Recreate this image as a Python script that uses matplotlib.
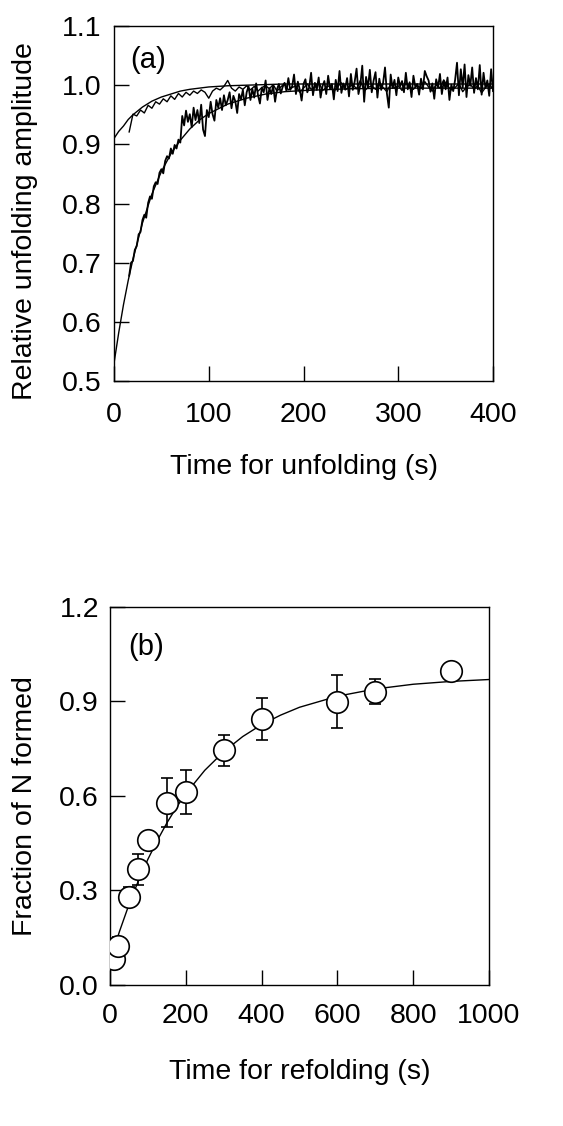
import numpy as np
import matplotlib
matplotlib.use("Agg")
import matplotlib.pyplot as plt

plt.rcParams['font.family'] = ['Liberation Sans', 'DejaVu Sans']

# ---------------- Panel (a) data ----------------
slow_t = list(range(16, 401, 2))
slow_y = [
    .678, .700, .703, .722, .728, .748, .752, .772, .781, .776,
    .801, .812, .808, .829, .836, .833, .852, .858, .851, .872,
    .880, .876, .893, .884, .899, .893, .908, .903, .948, .932,
    .957, .938, .951, .929, .962, .941, .958, .936, .967, .925,
    .914, .958, .946, .972, .951, .940, .975, .962, .978, .958,
    .983, .966, .975, .988, .961, .982, .973, .953, .985, .976,
    .992, .966, .988, .998, .975, .994, .979, 1.003, .983, .969,
    .996, .988, 1.008, .975, .995, .985, .999, .972, .993, 1.002,
    .986, .997, 1.004, .990, 1.012, .992, .998, 1.018, .985, 1.006,
    .993, .974, 1.002,
    1.010, .988, .996, 1.021, .983, 1.004, .992, 1.013, .979, .998,
    1.007, .985, 1.016, .994, 1.002, .976, 1.009, .990, 1.024, .987,
    1.003, .995, 1.012, .981, 1.019, .992, 1.006, 1.028, .985, 1.001,
    1.033, .972, 1.014, .996, 1.026, .988, 1.008, 1.022, .979, 1.011,
    .992, 1.004, 1.030, .986, .962, 1.018, .995, 1.009, .983, 1.013,
    .998, 1.007, .988, 1.021, .993, 1.005, .980, 1.016, .997, 1.002,
    .984, 1.011, .993, 1.024, 1.015, 1.008, .989, 1.003, .977, 1.010,
    .996, 1.019, .985, 1.007, .993, 1.013, .975, 1.001, .990, 1.009,
    1.038, .983, 1.027, .996, 1.035, .980, 1.017, .999, 1.030, .987,
    1.012, .993, 1.034, .984, 1.021, .995, 1.008, .982, 1.027, .990,
]

fast_t = list(range(16, 401, 4))
fast_y = [
    .921, .951, .948, .958, .953, .966, .961, .972, .968, .977,
    .972, .982, .976, .986, .980, .988, .983, .990, .986, .992,
    .988, .978, .990, .995, .992, .998, 1.008, .995, .990, .997,
    .993, .999, .992, .998, .990, .996, .999,
    .994, 1.001, .990, .997, 1.003, .992, .996, .999, .988, .995,
    1.002, .993, .997, 1.006, .991, .996, 1.000, .989, .998, 1.004,
    .992, .997, 1.001, .994, 1.008, .990, .996, .999, .993, 1.005,
    .996, .989, 1.002, .995, .999, .991, 1.004, .996, .993, 1.000,
    .994, 1.006, .997, .990, 1.001, .995, 1.009, .998, .992, .996,
    1.003, .989, .997, 1.001, .994, .999, .987, .996, 1.002, .993,
]

fit_t_a = [0, 5, 10, 15, 20, 30, 40, 50, 60, 70, 80, 90, 100, 120, 140,
           160, 180, 200, 250, 300, 350, 400]
slow_fit = [.530, .582, .629, .670, .706, .767, .816, .854, .884, .907,
            .926, .941, .952, .968, .978, .985, .989, .991, .994, .995,
            .995, .995]
fast_fit = [.910, .922, .931, .942, .950, .963, .973, .980, .985, .990,
            .993, .995, .997, .999, 1.000, 1.001, 1.002, 1.002, 1.002,
            1.002, 1.002, 1.002]

# ---------------- Panel (b) data ----------------
refold_t = [10, 20, 50, 75, 100, 150, 200, 300, 400, 600, 700, 900]
refold_y = [.082, .124, .280, .367, .460, .578, .611, .744, .843, .899, .930, .996]
refold_err = [.030, .027, .030, .050, 0.0, .078, .070, .050, .067, .085, .040, 0.0]

fit_t_b = [0, 25, 50, 75, 100, 125, 150, 175, 200, 250, 300, 350, 400,
           450, 500, 600, 700, 800, 900, 1000]
fit_y_b = [.075, .170, .255, .331, .399, .459, .514, .563, .607, .681,
           .740, .788, .826, .856, .881, .916, .939, .954, .963, .969]

FS = 20.5
LFS = 20.5

fig = plt.figure(figsize=(5.63, 11.26), dpi=100)

# ---- panel (a)
ax1 = fig.add_axes([0.2025, 0.6616, 0.6732, 0.3153])
ax1.plot(fit_t_a, slow_fit, color='black', lw=1.0)
ax1.plot(fit_t_a, fast_fit, color='black', lw=1.0)
ax1.plot(fast_t, fast_y, color='black', lw=1.0)
ax1.plot(slow_t, slow_y, color='black', lw=1.3)
ax1.set_xlim(0, 400)
ax1.set_ylim(0.5, 1.1)
ax1.set_xticks([0, 100, 200, 300, 400])
ax1.set_yticks([0.5, 0.6, 0.7, 0.8, 0.9, 1.0, 1.1])
ax1.set_yticklabels(['0.5', '0.6', '0.7', '0.8', '0.9', '1.0', '1.1'])
ax1.tick_params(axis='both', direction='in', length=11, width=1.0,
                labelsize=FS, top=False, right=False)
ax1.tick_params(axis='x', pad=15)
ax1.tick_params(axis='y', pad=9)
ax1.set_xlabel('Time for unfolding (s)', fontsize=LFS)
ax1.set_ylabel('Relative unfolding amplitude', fontsize=LFS)
ax1.xaxis.set_label_coords(0.5, -0.205)
ax1.yaxis.set_label_coords(-0.20, 0.45)
ax1.text(17, 1.043, '(a)', fontsize=21, va='center', ha='left')

# ---- panel (b)
ax2 = fig.add_axes([0.1954, 0.1252, 0.6732, 0.3360])
ax2.plot(fit_t_b, fit_y_b, color='black', lw=1.0, zorder=2)
ax2.errorbar(refold_t, refold_y, yerr=refold_err, fmt='none', ecolor='black',
             elinewidth=1.2, capsize=4.5, capthick=1.2, zorder=3)
ax2.plot(refold_t, refold_y, 'o', markersize=15.5, markerfacecolor='white',
         markeredgecolor='black', markeredgewidth=1.2, zorder=4)
ax2.set_xlim(0, 1000)
ax2.set_ylim(0.0, 1.2)
ax2.set_xticks([0, 200, 400, 600, 800, 1000])
ax2.set_yticks([0.0, 0.3, 0.6, 0.9, 1.2])
ax2.set_yticklabels(['0.0', '0.3', '0.6', '0.9', '1.2'])
ax2.tick_params(axis='both', direction='in', length=11, width=1.0,
                labelsize=FS, top=False, right=False)
ax2.tick_params(axis='x', pad=13)
ax2.tick_params(axis='y', pad=8)
ax2.set_xlabel('Time for refolding (s)', fontsize=LFS)
ax2.set_ylabel('Fraction of N formed', fontsize=LFS)
ax2.xaxis.set_label_coords(0.5, -0.195)
ax2.yaxis.set_label_coords(-0.19, 0.473)
ax2.text(47, 1.072, '(b)', fontsize=21, va='center', ha='left')

for ax in (ax1, ax2):
    for s in ax.spines.values():
        s.set_linewidth(1.0)

fig.savefig('out.png', dpi=100)
